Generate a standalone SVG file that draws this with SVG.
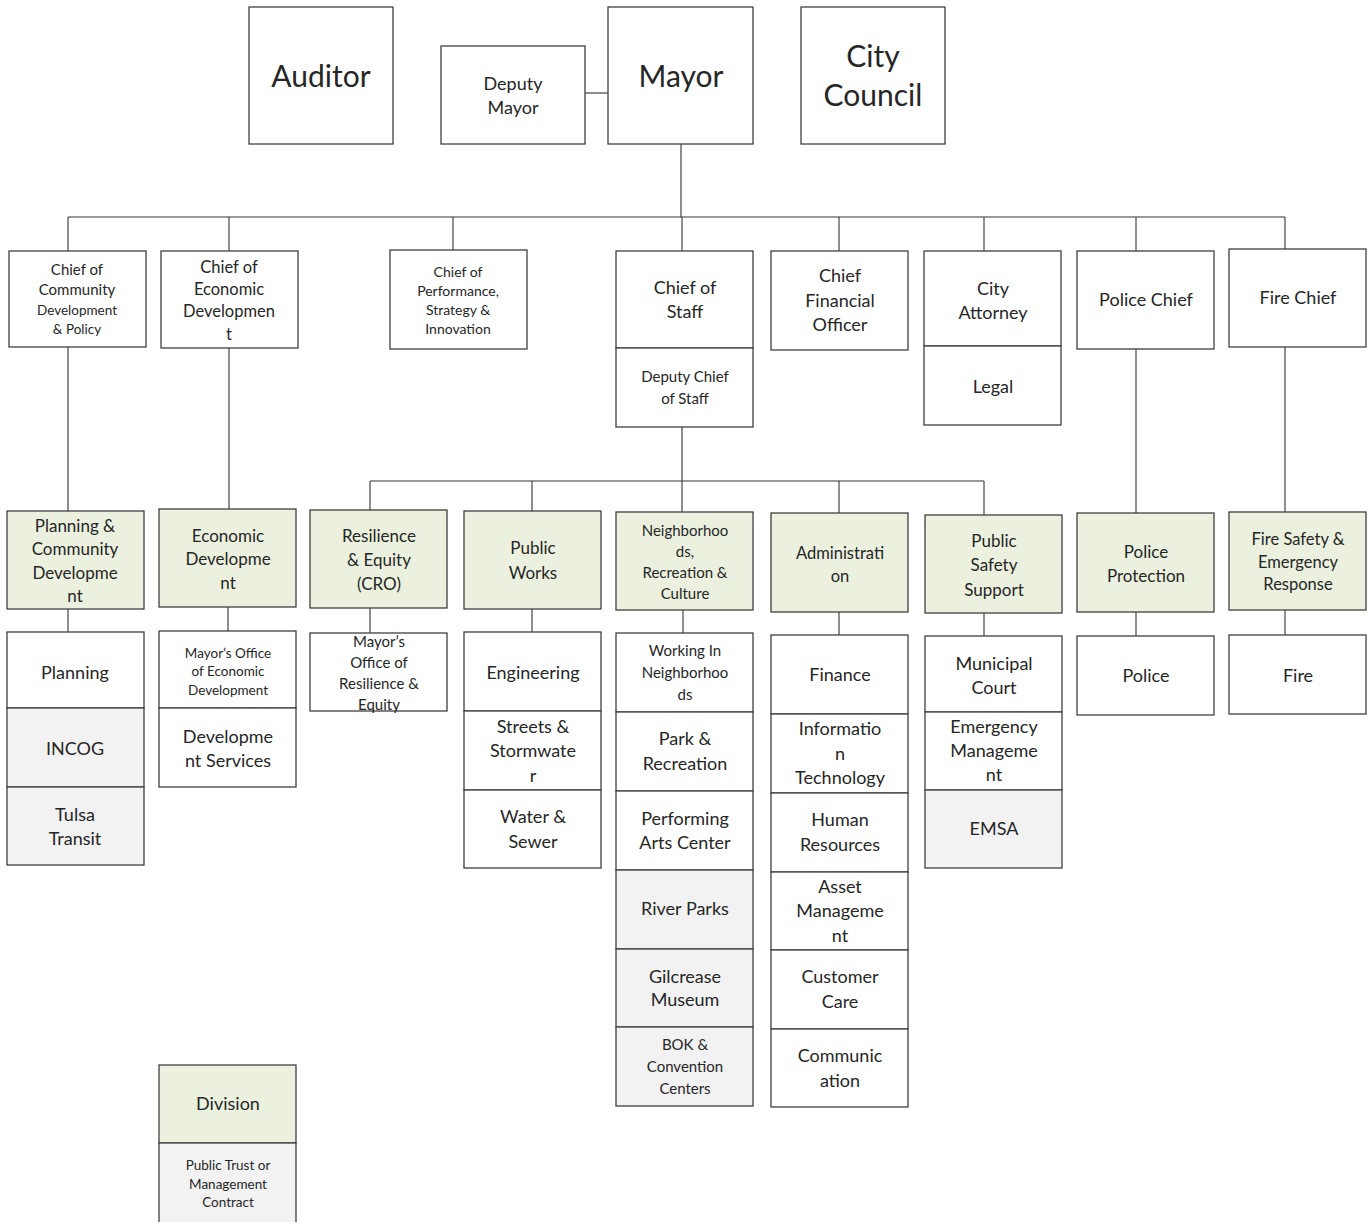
<svg xmlns="http://www.w3.org/2000/svg" width="1372" height="1222" viewBox="0 0 1372 1222">
<style>
.b{fill:#ffffff;stroke:#3f3f3f;stroke-width:1.3}
.g{fill:#ebf1de;stroke:#3f3f3f;stroke-width:1.3}
.p{fill:#f2f2f2;stroke:#3f3f3f;stroke-width:1.3}
text{font-family:Lato,"Open Sans","Liberation Sans",sans-serif;fill:#262626;text-anchor:middle}
.t30{font-size:30px}.t18{font-size:18px}.t17{font-size:17px}.t16{font-size:16.5px}.t15{font-size:15px}.t14{font-size:14px}.t13{font-size:13.5px}
.c line{stroke:#333333;stroke-width:1.1}
</style>
<rect width="1372" height="1222" fill="#ffffff"/>
<g class="c" id="connectors">
<line x1="585" y1="93" x2="608" y2="93"/>
<line x1="681" y1="144" x2="681" y2="217"/>
<line x1="68" y1="217" x2="1285" y2="217"/>
<line x1="68" y1="217" x2="68" y2="251"/>
<line x1="229" y1="217" x2="229" y2="251"/>
<line x1="453" y1="217" x2="453" y2="250"/>
<line x1="682" y1="217" x2="682" y2="251"/>
<line x1="839" y1="217" x2="839" y2="251"/>
<line x1="984" y1="217" x2="984" y2="251"/>
<line x1="1136" y1="217" x2="1136" y2="251"/>
<line x1="1285" y1="217" x2="1285" y2="249"/>
<line x1="68" y1="347" x2="68" y2="511"/>
<line x1="229" y1="348" x2="229" y2="509"/>
<line x1="682" y1="427" x2="682" y2="512"/>
<line x1="370" y1="481" x2="984" y2="481"/>
<line x1="370" y1="481" x2="370" y2="510"/>
<line x1="532" y1="481" x2="532" y2="511"/>
<line x1="839" y1="481" x2="839" y2="513"/>
<line x1="984" y1="481" x2="984" y2="515"/>
<line x1="1136" y1="349" x2="1136" y2="513"/>
<line x1="1285" y1="347" x2="1285" y2="512"/>
<line x1="68" y1="609" x2="68" y2="632"/>
<line x1="228" y1="607" x2="228" y2="631"/>
<line x1="370" y1="608" x2="370" y2="633"/>
<line x1="532" y1="609" x2="532" y2="632"/>
<line x1="683" y1="610" x2="683" y2="633"/>
<line x1="839" y1="612" x2="839" y2="635"/>
<line x1="984" y1="613" x2="984" y2="636"/>
<line x1="1136" y1="612" x2="1136" y2="636"/>
<line x1="1285" y1="610" x2="1285" y2="635"/>
</g>
<g id="auditor"><rect class="b" x="249" y="7" width="144" height="137"/><text class="t30" x="321" y="87">Auditor</text></g>
<g id="deputy-mayor"><rect class="b" x="441" y="46" width="144" height="98"/><text class="t18" x="513" y="90">Deputy</text><text class="t18" x="513" y="114">Mayor</text></g>
<g id="mayor"><rect class="b" x="608" y="7" width="145" height="137"/><text class="t30" x="681" y="87">Mayor</text></g>
<g id="city-council"><rect class="b" x="801" y="7" width="144" height="137"/><text class="t30" x="873" y="67">City</text><text class="t30" x="873" y="106">Council</text></g>

<g id="chief-community"><rect class="b" x="9" y="251" width="137" height="96"/><text class="t15" x="77" y="275">Chief of</text><text class="t15" x="77" y="295">Community</text><text class="t13" x="77" y="315">Development</text><text class="t13" x="77" y="334">&amp; Policy</text></g>
<g id="chief-economic"><rect class="b" x="161" y="251" width="137" height="97"/><text class="t16" x="229" y="273">Chief of</text><text class="t16" x="229" y="295">Economic</text><text class="t16" x="229" y="317">Developmen</text><text class="t16" x="229" y="340">t</text></g>
<g id="chief-performance"><rect class="b" x="390" y="250" width="137" height="99"/><text class="t14" x="458" y="277">Chief of</text><text class="t14" x="458" y="296">Performance,</text><text class="t14" x="458" y="315">Strategy &amp;</text><text class="t14" x="458" y="334">Innovation</text></g>
<g id="chief-staff"><rect class="b" x="616" y="251" width="137" height="97"/><text class="t18" x="685" y="294">Chief of</text><text class="t18" x="685" y="318">Staff</text></g>
<g id="deputy-chief-staff"><rect class="b" x="616" y="348" width="137" height="79"/><text class="t15" x="685" y="382">Deputy Chief</text><text class="t15" x="685" y="404">of Staff</text></g>
<g id="cfo"><rect class="b" x="771" y="251" width="137" height="99"/><text class="t18" x="840" y="282">Chief</text><text class="t18" x="840" y="307">Financial</text><text class="t18" x="840" y="331">Officer</text></g>
<g id="city-attorney"><rect class="b" x="924" y="251" width="137" height="95"/><text class="t18" x="993" y="295">City</text><text class="t18" x="993" y="319">Attorney</text></g>
<g id="legal"><rect class="b" x="924" y="346" width="137" height="79"/><text class="t18" x="993" y="393">Legal</text></g>
<g id="police-chief"><rect class="b" x="1077" y="251" width="137" height="98"/><text class="t18" x="1146" y="306">Police Chief</text></g>
<g id="fire-chief"><rect class="b" x="1229" y="249" width="137" height="98"/><text class="t18" x="1298" y="304">Fire Chief</text></g>

<g id="planning-community"><rect class="g" x="7" y="511" width="137" height="98"/><text class="t17" x="75" y="532">Planning &amp;</text><text class="t17" x="75" y="555">Community</text><text class="t17" x="75" y="579">Developme</text><text class="t17" x="75" y="602">nt</text></g>
<g id="economic-development"><rect class="g" x="159" y="509" width="137" height="98"/><text class="t17" x="228" y="542">Economic</text><text class="t17" x="228" y="565">Developme</text><text class="t17" x="228" y="589">nt</text></g>
<g id="resilience-equity"><rect class="g" x="310" y="510" width="137" height="98"/><text class="t17" x="379" y="542">Resilience</text><text class="t17" x="379" y="566">&amp; Equity</text><text class="t17" x="379" y="590">(CRO)</text></g>
<g id="public-works"><rect class="g" x="464" y="511" width="137" height="98"/><text class="t17" x="533" y="554">Public</text><text class="t17" x="533" y="579">Works</text></g>
<g id="neighborhoods"><rect class="g" x="616" y="512" width="137" height="98"/><text class="t15" x="685" y="536">Neighborhoo</text><text class="t15" x="685" y="557">ds,</text><text class="t15" x="685" y="578">Recreation &amp;</text><text class="t15" x="685" y="599">Culture</text></g>
<g id="administration"><rect class="g" x="771" y="513" width="137" height="99"/><text class="t16" x="840" y="559">Administrati</text><text class="t16" x="840" y="582">on</text></g>
<g id="public-safety-support"><rect class="g" x="925" y="515" width="137" height="98"/><text class="t17" x="994" y="547">Public</text><text class="t17" x="994" y="571">Safety</text><text class="t17" x="994" y="596">Support</text></g>
<g id="police-protection"><rect class="g" x="1077" y="513" width="137" height="99"/><text class="t17" x="1146" y="558">Police</text><text class="t17" x="1146" y="582">Protection</text></g>
<g id="fire-safety"><rect class="g" x="1229" y="512" width="137" height="98"/><text class="t16" x="1298" y="545">Fire Safety &amp;</text><text class="t16" x="1298" y="568">Emergency</text><text class="t16" x="1298" y="590">Response</text></g>

<g id="planning"><rect class="b" x="7" y="632" width="137" height="76"/><text class="t18" x="75" y="679">Planning</text></g>
<g id="incog"><rect class="p" x="7" y="708" width="137" height="79"/><text class="t18" x="75" y="755">INCOG</text></g>
<g id="tulsa-transit"><rect class="p" x="7" y="787" width="137" height="78"/><text class="t18" x="75" y="821">Tulsa</text><text class="t18" x="75" y="845">Transit</text></g>

<g id="mayors-office-econ"><rect class="b" x="159" y="631" width="137" height="77"/><text class="t13" x="228" y="658">Mayor’s Office</text><text class="t13" x="228" y="676">of Economic</text><text class="t13" x="228" y="695">Development</text></g>
<g id="development-services"><rect class="b" x="159" y="708" width="137" height="79"/><text class="t18" x="228" y="743">Developme</text><text class="t18" x="228" y="767">nt Services</text></g>

<g id="mayors-office-resilience"><rect class="b" x="310" y="633" width="137" height="78"/><text class="t15" x="379" y="647">Mayor’s</text><text class="t15" x="379" y="668">Office of</text><text class="t15" x="379" y="689">Resilience &amp;</text><text class="t15" x="379" y="710">Equity</text></g>

<g id="engineering"><rect class="b" x="464" y="632" width="137" height="79"/><text class="t18" x="533" y="679">Engineering</text></g>
<g id="streets"><rect class="b" x="464" y="711" width="137" height="79"/><text class="t18" x="533" y="733">Streets &amp;</text><text class="t18" x="533" y="757">Stormwate</text><text class="t18" x="533" y="782">r</text></g>
<g id="water-sewer"><rect class="b" x="464" y="790" width="137" height="78"/><text class="t18" x="533" y="823">Water &amp;</text><text class="t18" x="533" y="848">Sewer</text></g>

<g id="working-in-neighborhoods"><rect class="b" x="616" y="633" width="137" height="79"/><text class="t15" x="685" y="656">Working In</text><text class="t15" x="685" y="678">Neighborhoo</text><text class="t15" x="685" y="700">ds</text></g>
<g id="park-recreation"><rect class="b" x="616" y="712" width="137" height="79"/><text class="t18" x="685" y="745">Park &amp;</text><text class="t18" x="685" y="770">Recreation</text></g>
<g id="performing-arts"><rect class="b" x="616" y="791" width="137" height="79"/><text class="t18" x="685" y="825">Performing</text><text class="t18" x="685" y="849">Arts Center</text></g>
<g id="river-parks"><rect class="p" x="616" y="870" width="137" height="79"/><text class="t18" x="685" y="915">River Parks</text></g>
<g id="gilcrease"><rect class="p" x="616" y="949" width="137" height="78"/><text class="t18" x="685" y="983">Gilcrease</text><text class="t18" x="685" y="1006">Museum</text></g>
<g id="bok"><rect class="p" x="616" y="1027" width="137" height="79"/><text class="t15" x="685" y="1050">BOK &amp;</text><text class="t15" x="685" y="1072">Convention</text><text class="t15" x="685" y="1094">Centers</text></g>

<g id="finance"><rect class="b" x="771" y="635" width="137" height="79"/><text class="t18" x="840" y="681">Finance</text></g>
<g id="information-technology"><rect class="b" x="771" y="714" width="137" height="79"/><text class="t18" x="840" y="735">Informatio</text><text class="t18" x="840" y="760">n</text><text class="t18" x="840" y="784">Technology</text></g>
<g id="human-resources"><rect class="b" x="771" y="793" width="137" height="79"/><text class="t18" x="840" y="826">Human</text><text class="t18" x="840" y="851">Resources</text></g>
<g id="asset-management"><rect class="b" x="771" y="872" width="137" height="78"/><text class="t18" x="840" y="893">Asset</text><text class="t18" x="840" y="917">Manageme</text><text class="t18" x="840" y="942">nt</text></g>
<g id="customer-care"><rect class="b" x="771" y="950" width="137" height="79"/><text class="t18" x="840" y="983">Customer</text><text class="t18" x="840" y="1008">Care</text></g>
<g id="communication"><rect class="b" x="771" y="1029" width="137" height="78"/><text class="t18" x="840" y="1062">Communic</text><text class="t18" x="840" y="1087">ation</text></g>

<g id="municipal-court"><rect class="b" x="925" y="636" width="137" height="76"/><text class="t18" x="994" y="670">Municipal</text><text class="t18" x="994" y="694">Court</text></g>
<g id="emergency-management"><rect class="b" x="925" y="712" width="137" height="78"/><text class="t18" x="994" y="733">Emergency</text><text class="t18" x="994" y="757">Manageme</text><text class="t18" x="994" y="781">nt</text></g>
<g id="emsa"><rect class="p" x="925" y="790" width="137" height="78"/><text class="t18" x="994" y="835">EMSA</text></g>

<g id="police"><rect class="b" x="1077" y="636" width="137" height="79"/><text class="t18" x="1146" y="682">Police</text></g>
<g id="fire"><rect class="b" x="1229" y="635" width="137" height="79"/><text class="t18" x="1298" y="682">Fire</text></g>

<g id="legend-division"><rect class="g" x="159" y="1065" width="137" height="78"/><text class="t18" x="228" y="1110">Division</text></g>
<g id="legend-public-trust"><rect class="p" x="159" y="1143" width="137" height="80"/><text class="t13" x="228" y="1170">Public Trust or</text><text class="t13" x="228" y="1189">Management</text><text class="t13" x="228" y="1207">Contract</text></g>
</svg>
